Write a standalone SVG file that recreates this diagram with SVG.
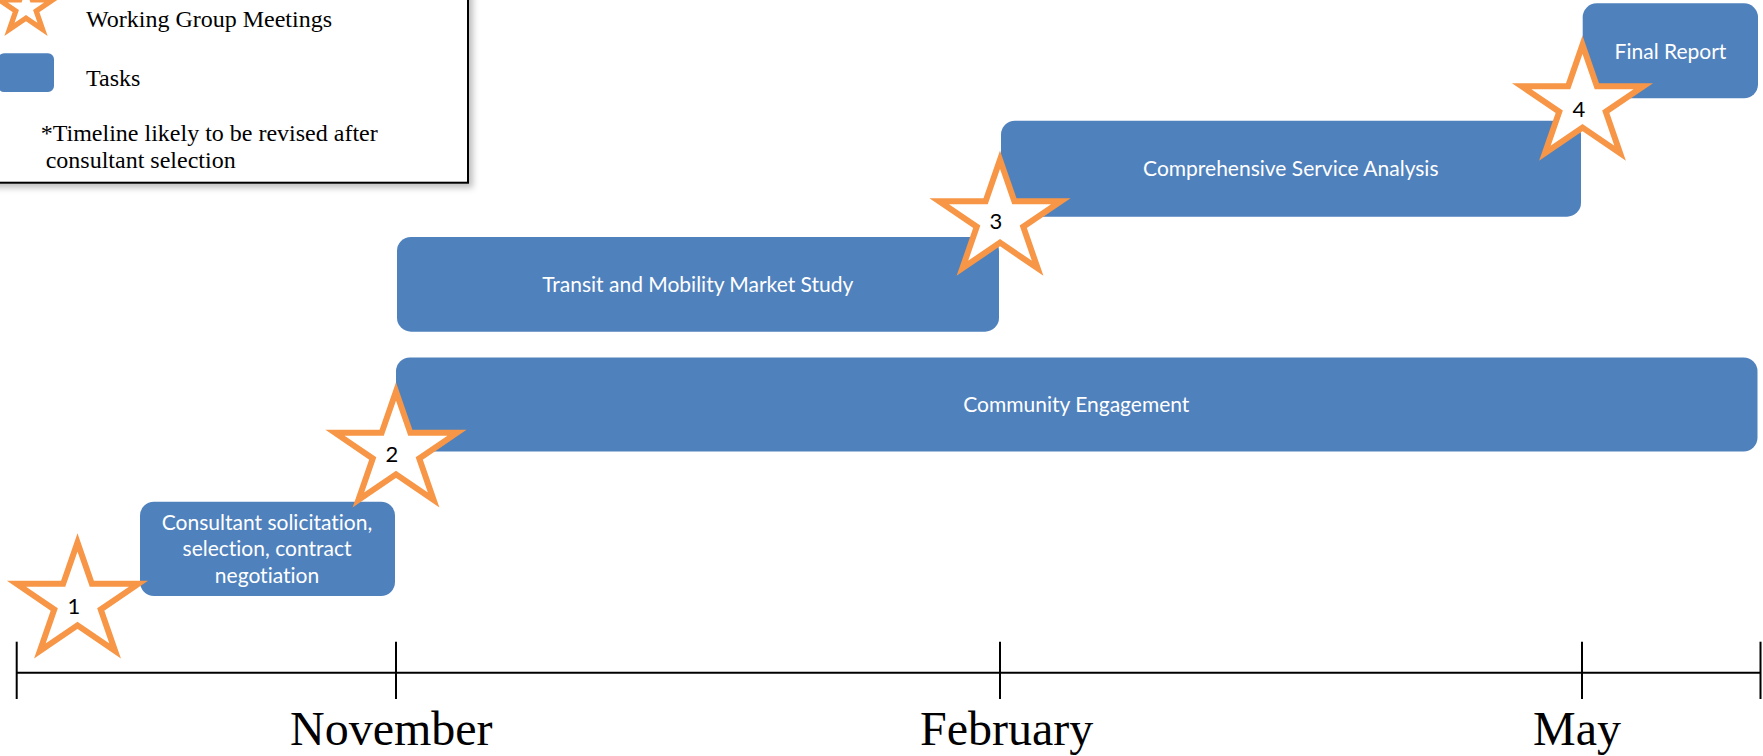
<svg xmlns="http://www.w3.org/2000/svg" xmlns:xlink="http://www.w3.org/1999/xlink" width="1763" height="756" viewBox="0 0 1763 756">
  <defs>
    <style>
      .task { fill: #4F81BD; }
      .task-label { fill: #ffffff; font-family: Lato, "Open Sans", sans-serif; font-size: 21px; text-anchor: middle; font-variant-ligatures: none; }
      .star { fill: #ffffff; stroke: #F79646; stroke-width: 6; stroke-linejoin: miter; }
      .star-label { fill: #000000; font-family: Lato, "Open Sans", sans-serif; font-size: 22px; text-anchor: middle; }
      .legend-text { fill: #000000; font-family: "Liberation Serif", "Times New Roman", serif; font-size: 24px; }
      .month { fill: #000000; font-family: "Liberation Serif", "Times New Roman", serif; font-size: 48px; }
      .axis { stroke: #000000; stroke-width: 2; fill: none; }
    </style>
    <!-- five-point star, centred on the origin -->
    <path id="star-shape" d="M0,-60 L14.37,-18.54 L60.86,-18.54 L23.25,7.08 L37.62,48.54 L0,22.92 L-37.62,48.54 L-23.25,7.08 L-60.86,-18.54 L-14.37,-18.54 Z"/>
    <filter id="box-shadow" x="-10%" y="-10%" width="130%" height="130%">
      <feDropShadow dx="4" dy="4" stdDeviation="3" flood-color="#000000" flood-opacity="0.25"/>
    </filter>
  </defs>

  <rect x="0" y="0" width="1763" height="756" fill="#ffffff"/>

  <!-- legend -->
  <g id="legend">
    <rect x="-10" y="-10" width="478" height="192.7" fill="#ffffff" stroke="#000000" stroke-width="2" filter="url(#box-shadow)"/>
    <use xlink:href="#star-shape" href="#star-shape" class="star" style="stroke-width:12" transform="translate(26,8) scale(0.44)"/>
    <text class="legend-text" x="86" y="26.7">Working Group Meetings</text>
    <rect class="task" x="-2" y="53.3" width="56" height="38.7" rx="6"/>
    <text class="legend-text" x="86" y="85.7">Tasks</text>
    <text class="legend-text" x="40.7" y="141">*Timeline likely to be revised after</text>
    <text class="legend-text" x="45.7" y="168">consultant selection</text>
  </g>

  <!-- timeline axis -->
  <g id="connectors">
    <line class="axis" x1="16.7" y1="672.7" x2="1760.5" y2="672.7"/>
    <line class="axis" x1="16.7" y1="641.7" x2="16.7" y2="699"/>
    <line class="axis" x1="396" y1="641.7" x2="396" y2="699"/>
    <line class="axis" x1="1000" y1="641.7" x2="1000" y2="699"/>
    <line class="axis" x1="1582" y1="641.7" x2="1582" y2="699"/>
    <line class="axis" x1="1760.5" y1="641.7" x2="1760.5" y2="699"/>
  </g>

  <g id="month-labels">
    <text class="month" x="290" y="745">November</text>
    <text class="month" x="920" y="745">February</text>
    <text class="month" x="1533" y="745">May</text>
  </g>

  <!-- tasks -->
  <g id="task-consultant">
    <rect class="task" x="140" y="501.7" width="255" height="94.3" rx="14"/>
    <text class="task-label" x="267" y="530">Consultant solicitation,</text>
    <text class="task-label" x="267" y="556">selection, contract</text>
    <text class="task-label" x="267" y="582.5">negotiation</text>
  </g>
  <g id="task-community">
    <rect class="task" x="396" y="357.5" width="1361.5" height="94" rx="14"/>
    <text class="task-label" x="1076.3" y="411.7">Community Engagement</text>
  </g>
  <g id="task-market-study">
    <rect class="task" x="397" y="237" width="602" height="94.7" rx="14"/>
    <text class="task-label" x="697.8" y="291.7">Transit and Mobility Market Study</text>
  </g>
  <g id="task-service-analysis">
    <rect class="task" x="1001" y="120.7" width="580" height="96" rx="14"/>
    <text class="task-label" x="1290.8" y="176">Comprehensive Service Analysis</text>
  </g>
  <g id="task-final-report">
    <rect class="task" x="1582.7" y="3.3" width="175.3" height="95" rx="14"/>
    <text class="task-label" x="1670.5" y="59.3">Final Report</text>
  </g>

  <!-- working group meetings -->
  <g id="meeting-1">
    <use xlink:href="#star-shape" href="#star-shape" class="star" transform="translate(77.5,602.4)"/>
    <text class="star-label" x="74" y="613.5">1</text>
  </g>
  <g id="meeting-2">
    <use xlink:href="#star-shape" href="#star-shape" class="star" transform="translate(396,451.4)"/>
    <text class="star-label" x="392" y="461.7">2</text>
  </g>
  <g id="meeting-3">
    <use xlink:href="#star-shape" href="#star-shape" class="star" transform="translate(1000,219.7)"/>
    <text class="star-label" x="996" y="229.3">3</text>
  </g>
  <g id="meeting-4">
    <use xlink:href="#star-shape" href="#star-shape" class="star" transform="translate(1582.5,104.7)"/>
    <text class="star-label" x="1579" y="117.3">4</text>
  </g>
</svg>
